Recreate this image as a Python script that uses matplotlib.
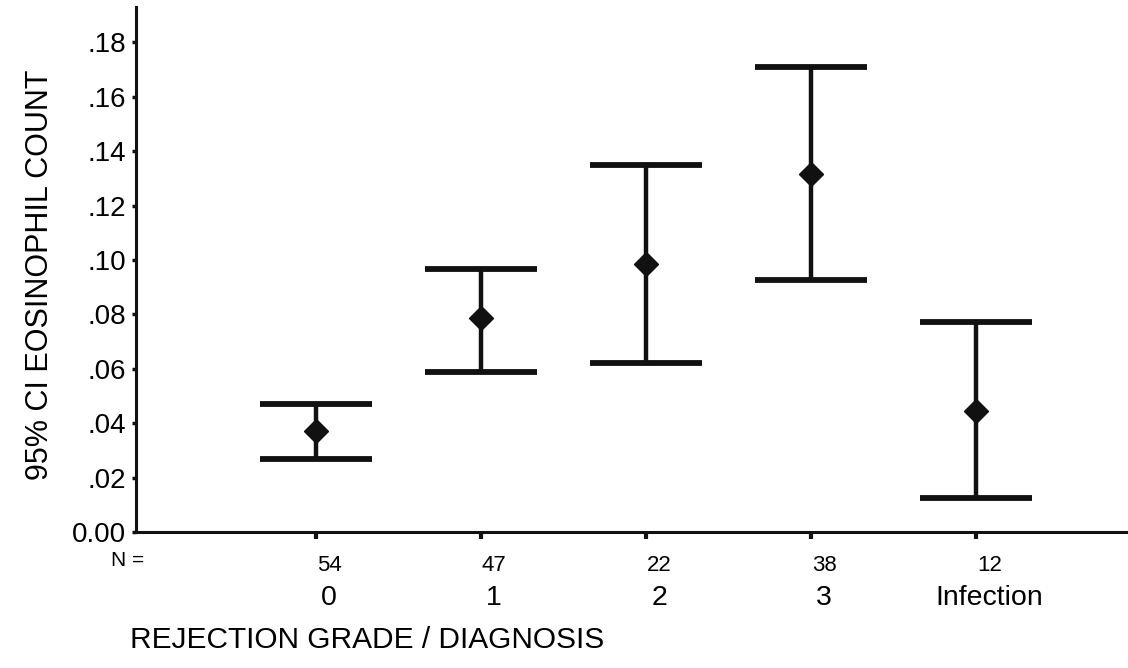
import matplotlib
matplotlib.use("Agg")
import matplotlib.pyplot as plt
import numpy as np

# eosinophil count by rejection grade: mean with 95% CI
grades = ["0", "1", "2", "3", "Infection"]
counts = [54, 47, 22, 38, 12]
means = [0.037, 0.0787, 0.0984, 0.1315, 0.0445]
lower = [0.027, 0.059, 0.0623, 0.0926, 0.0124]
upper = [0.047, 0.0966, 0.1348, 0.1709, 0.0773]
yticks = [0.00, 0.02, 0.04, 0.06, 0.08, 0.10, 0.12, 0.14, 0.16, 0.18]
ytick_labels = ["0.00", ".02", ".04", ".06", ".08", ".10", ".12", ".14", ".16", ".18"]

plt.rcParams["font.family"] = ["Liberation Sans", "DejaVu Sans"]

W, H = 1128, 668
fig = plt.figure(figsize=(W / 100, H / 100), dpi=100)
ax = fig.add_axes([136 / W, 1 - 532 / H, 1 - 136 / W, (532 - 7) / H])

x = np.arange(len(grades))
m = np.array(means)
err = [m - np.array(lower), np.array(upper) - m]
ax.errorbar(x, m, yerr=err, fmt="D", color="#111111", ms=12,
            elinewidth=3.2, capsize=40, capthick=4.2)

ax.set_xlim(-1.09, 4.92)
ax.set_ylim(0, 0.193)

ax.spines["top"].set_visible(False)
ax.spines["right"].set_visible(False)
for s in ("left", "bottom"):
    ax.spines[s].set_linewidth(2.2)
    ax.spines[s].set_color("#111111")

ax.set_yticks(yticks)
ax.set_yticklabels(ytick_labels, fontsize=20)
ax.tick_params(axis="y", length=3, width=2.5, pad=4, color="#111111")
ax.set_xticks(x)
ax.set_xticklabels([])
ax.tick_params(axis="x", length=5, width=3, color="#111111")

# N counts and group names under the axis
tr = ax.get_xaxis_transform()
for xi, n, g in zip(x, counts, grades):
    ax.text(xi + 0.08, -0.063, str(n), transform=tr, ha="center", va="center",
            fontsize=16, clip_on=False)
    ax.text(xi + 0.08, -0.126, g, transform=tr, ha="center", va="center",
            fontsize=20.5, clip_on=False)
fig.text(128 / W, 1 - 560 / H, "N =", ha="center", va="center", fontsize=15)

fig.text(130 / W, 1 - 640 / H, "REJECTION GRADE / DIAGNOSIS", ha="left",
         va="center", fontsize=21.5)
fig.text(40 / W, 1 - 275 / H, "95% CI EOSINOPHIL COUNT", rotation=90,
         ha="center", va="center", fontsize=22)

fig.savefig("out.png", dpi=100)
